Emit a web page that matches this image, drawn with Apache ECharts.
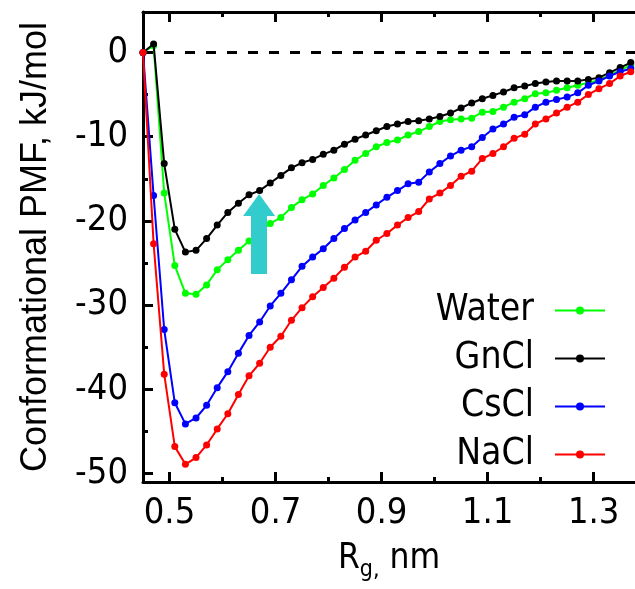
<!DOCTYPE html>
<html>
<head>
<meta charset="utf-8">
<script src="https://cdn.jsdelivr.net/npm/echarts@6/dist/echarts.min.js"></script>
<style>
  html, body { margin: 0; padding: 0; background: #fff; }
  #chart { width: 635px; height: 589px; }
</style>
</head>
<body>
<div id="chart"></div>
<script>
// Rg values (nm)
const rg = [0.45, 0.47, 0.49, 0.51, 0.53, 0.55, 0.57, 0.59, 0.61, 0.63,
  0.65, 0.67, 0.69, 0.71, 0.73, 0.75, 0.77, 0.79, 0.81, 0.83,
  0.85, 0.87, 0.89, 0.91, 0.93, 0.95, 0.97, 0.99, 1.01, 1.03,
  1.05, 1.07, 1.09, 1.11, 1.13, 1.15, 1.17, 1.19, 1.21, 1.23,
  1.25, 1.27, 1.29, 1.31, 1.33, 1.35, 1.37];

// conformational PMF, kJ/mol
const water = [0, 0.8, -16.7, -25.3, -28.6, -28.7, -27.6, -25.8, -24.6, -23.5,
  -22.4, -21.3, -20.3, -19.6, -18.4, -17.5, -16.8, -15.8, -14.9, -13.9,
  -12.8, -12.0, -11.2, -10.7, -10.4, -9.8, -9.4, -8.8, -8.2, -8.0,
  -7.9, -7.8, -7.1, -7.0, -6.5, -5.9, -5.5, -4.9, -4.8, -4.5,
  -4.2, -3.9, -3.6, -3.3, -2.7, -2.1, -1.5];
const gncl = [0, 1.0, -13.2, -21.0, -23.7, -23.5, -22.1, -20.5, -19.0, -17.9,
  -16.9, -16.4, -15.5, -14.6, -13.7, -13.1, -12.7, -12.1, -11.6, -10.9,
  -10.3, -9.8, -9.3, -8.8, -8.5, -8.2, -8.1, -7.9, -7.6, -7.2,
  -6.6, -6.0, -5.5, -5.1, -4.7, -4.2, -4.0, -3.7, -3.5, -3.4,
  -3.4, -3.4, -3.2, -3.0, -2.4, -1.8, -1.2];
const cscl = [0, -17.0, -32.9, -41.6, -44.1, -43.4, -41.9, -39.8, -37.9, -35.7,
  -33.6, -32.0, -30.1, -28.6, -27.0, -25.4, -24.3, -23.3, -22.1, -20.9,
  -19.9, -19.0, -18.1, -17.2, -16.4, -15.6, -15.4, -14.2, -13.2, -12.3,
  -11.6, -11.2, -10.1, -9.1, -8.5, -7.7, -7.4, -6.5, -5.9, -5.6,
  -5.3, -4.8, -3.9, -3.4, -2.8, -2.3, -1.9];
const nacl = [0, -22.7, -38.2, -46.8, -48.9, -48.1, -46.6, -44.7, -42.9, -40.6,
  -38.4, -36.9, -35.0, -33.7, -31.8, -30.3, -29.0, -27.9, -26.8, -25.5,
  -24.3, -23.6, -22.3, -21.5, -20.5, -19.6, -18.9, -17.4, -16.7, -15.8,
  -14.7, -14.1, -12.6, -12.0, -11.2, -10.2, -9.7, -8.5, -7.9, -7.2,
  -6.5, -5.9, -5.0, -4.3, -3.7, -2.8, -2.3];

const seriesNames = ['Water', 'GnCl', 'CsCl', 'NaCl'];
const seriesColors = ['#00ff00', '#000000', '#0000ff', '#ff0000'];

// tick values
const xMajor = [0.5, 0.7, 0.9, 1.1, 1.3];
const xMinor = [0.6, 0.8, 1.0, 1.2];
const yMajor = [-50, -40, -30, -20, -10, 0];
const yMinor = [-45, -35, -25, -15, -5];

// arrow annotation (data coords)
const arrowX = 0.669;
const arrowFrom = -26.3;
const arrowTo = -18.1;

const narrow = "'Liberation Sans Narrow', 'DejaVu Sans Condensed', 'Liberation Sans', sans-serif";
const regular = "'Liberation Sans', Arial, sans-serif";
const xMin = 0.45, xMax = 1.378, yMin = -51, yMax = 4.8;

function pairs(ys) {
  return rg.map((x, i) => [x, ys[i]]);
}

function xAxisDef(position, ticks, len, withLine, withLabel) {
  return {
    type: 'value',
    position: position,
    min: xMin,
    max: xMax,
    axisLine: {show: withLine, onZero: false, lineStyle: {color: '#000', width: 3}},
    axisTick: {show: true, inside: true, length: len, customValues: ticks,
      lineStyle: {color: '#000', width: 3}},
    axisLabel: {show: withLabel, customValues: ticks, formatter: v => v.toFixed(1),
      margin: 14, fontSize: 36, fontFamily: narrow, color: '#000'},
    splitLine: {show: false}
  };
}

function yAxisDef(ticks, len, withLine, withLabel) {
  return {
    type: 'value',
    position: 'left',
    min: yMin,
    max: yMax,
    axisLine: {show: withLine, onZero: false, lineStyle: {color: '#000', width: 3}},
    axisTick: {show: true, inside: true, length: len, customValues: ticks,
      lineStyle: {color: '#000', width: 3}},
    axisLabel: {show: withLabel, customValues: ticks, margin: 15,
      fontSize: 36, fontFamily: narrow, color: '#000'},
    splitLine: {show: false}
  };
}

const chart = echarts.init(document.getElementById('chart'), null, {renderer: 'canvas'});

const xBottom = xAxisDef('bottom', xMajor, 10, true, true);
xBottom.name = '{r|R}{s|g,}{r| nm}';
xBottom.nameLocation = 'middle';
xBottom.nameGap = 54;
xBottom.nameTextStyle = {
  rich: {
    r: {fontSize: 35, fontFamily: narrow, color: '#000', lineHeight: 34, verticalAlign: 'middle'},
    s: {fontSize: 23, fontFamily: narrow, color: '#000', lineHeight: 46, verticalAlign: 'bottom'}
  }
};

const yLeft = yAxisDef(yMajor, 10, true, true);
yLeft.name = 'Conformational PMF, kJ/mol';
yLeft.nameLocation = 'middle';
yLeft.nameGap = 89;
yLeft.nameTextStyle = {fontSize: 36, fontFamily: regular, color: '#000'};

// dashed zero reference line, spanning the x axis range
const series = [{
  name: 'zero',
  type: 'line',
  data: [[xMin, 0], [xMax, 0]],
  symbol: 'none',
  silent: true,
  z: 2,
  lineStyle: {color: '#000', width: 3, type: [10, 11]}
}];

seriesNames.forEach((name, k) => {
  series.push({
    name: name,
    type: 'line',
    data: pairs([water, gncl, cscl, nacl][k]),
    symbol: 'circle',
    symbolSize: 7,
    showSymbol: true,
    color: seriesColors[k],
    lineStyle: {width: 2, color: seriesColors[k]},
    itemStyle: {color: seriesColors[k]},
    z: 3 + k
  });
});

// cyan arrow
series.push({
  name: 'arrow',
  type: 'line',
  data: [],
  z: 10,
  markLine: {
    silent: true,
    animation: false,
    symbol: ['none', 'triangle'],
    symbolSize: [32, 22],
    label: {show: false},
    lineStyle: {color: '#33cccc', width: 16, type: 'solid'},
    itemStyle: {color: '#33cccc'},
    data: [[{coord: [arrowX, arrowFrom]}, {coord: [arrowX, arrowTo]}]]
  }
});

chart.setOption({
  animation: false,
  backgroundColor: '#fff',
  grid: {left: 143, top: 12, right: 0, bottom: 107, containLabel: false, outerBoundsMode: 'none'},
  legend: {
    data: seriesNames,
    orient: 'vertical',
    right: 24,
    top: 287,
    align: 'right',
    itemWidth: 50,
    itemHeight: 10,
    itemGap: 11,
    textStyle: {fontSize: 37, fontFamily: narrow, color: '#000', padding: [0, 16, 0, 0]}
  },
  xAxis: [
    xBottom,
    xAxisDef('bottom', xMinor, 5, false, false),
    xAxisDef('top', xMajor, 10, true, false),
    xAxisDef('top', xMinor, 5, false, false)
  ],
  yAxis: [
    yLeft,
    yAxisDef(yMinor, 5, false, false)
  ],
  series: series
});
</script>
</body>
</html>
